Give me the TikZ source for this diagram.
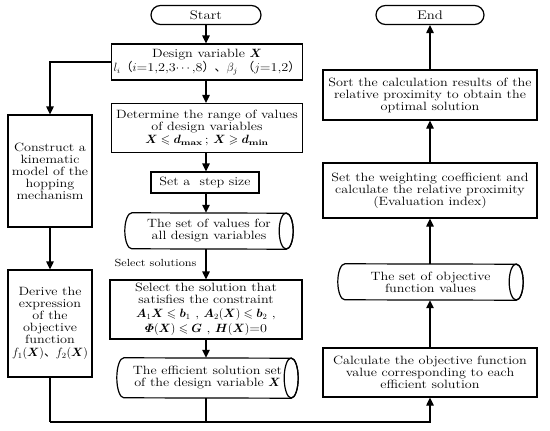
\documentclass[tikz,border=0pt]{standalone}
\usepackage{amsmath,amssymb,bm}
\usepackage{fontspec}
\setmainfont{Latin Modern Roman}[FakeStretch=1.18]
\newfontfamily\cjk{Noto Sans CJK SC}
\usetikzlibrary{arrows.meta,shapes.misc,positioning}
\tikzset{
  box/.style={draw,line width=1.2pt,align=center,inner sep=1pt,font=\fontsize{12}{12}\selectfont},
  term/.style={box,rounded rectangle},
  cylbox/.style={align=center,inner sep=1pt,font=\fontsize{12}{12}\selectfont},
  conn/.style={line width=1.2pt},
  arr/.style={conn,-{Triangle[length=8pt,width=7.5pt]}},
}
\newcommand{\drawcyl}[3]{% node, half height, rx
  \draw[line width=1.2pt] ([xshift=#3]#1.north west) arc[start angle=90,end angle=270,x radius=#3,y radius=#2]
    -- ([xshift=-#3]#1.south east) arc[start angle=-90,end angle=90,x radius=#3,y radius=#2] -- cycle;
  \draw[line width=1.2pt] ([xshift=-#3]#1.east) ellipse[x radius=#3,y radius=#2];
}
\begin{document}
\begin{tikzpicture}[x=1pt,y=-1pt]
\useasboundingbox (0,0) rectangle (550,431);
% middle column
\node[term,minimum width=112pt,minimum height=19pt,font=\fontsize{12.5}{12}\selectfont] (start) at (206,15) {Start};
\node[box,minimum width=191pt,minimum height=36pt] (dv) at (207,62) {Design variable $\bm{X}$\\[1pt]
  $l_i${\cjk （}$i$=1,2,3$\cdots$,8{\cjk ）、}$\beta_j$ {\cjk （}$j$=1,2{\cjk ）}};
\node[box,minimum width=191pt,minimum height=49pt] (det) at (207,128) {Determine the range of values\\ of design variables\\[1pt]
  $\bm{X}\leqslant\bm{d}_{\textbf{max}}$\,; $\bm{X}\geqslant\bm{d}_{\textbf{min}}$};
\node[box,minimum width=108pt,minimum height=21pt] (stp) at (205,182.5) {Set a\ \ step size};
\node[cylbox,minimum width=168pt,minimum height=36pt] (setv) at (209,231) {The set of values for\\ all design variables};
\node[box,minimum width=192pt,minimum height=59pt] (sel) at (206,309.5) {Select the solution that\\ satisfies the constraint\\[1.5pt]
  $\bm{A}_1\bm{X}\leqslant\bm{b}_1$ , $\bm{A}_2(\bm{X})\leqslant\bm{b}_2$ ,\\[3pt] $\bm{\varPhi}(\bm{X})\leqslant\bm{G}$ , $\bm{H}(\bm{X})$=0};
\node[cylbox,minimum width=181pt,minimum height=40pt] (eff) at (207.5,378) {The efficient solution set\\ of the design variable $\bm{X}$};
\node[font=\fontsize{10.3}{12}\selectfont,anchor=east] (lab) at (200,263) {Select solutions};
% left column
\node[box,minimum width=84pt,minimum height=112pt] (l1) at (50,171) {Construct a\\ kinematic\\ model of the\\ hopping\\ mechanism};
\node[box,minimum width=84pt,minimum height=107pt] (l2) at (50,323.5) {Derive the\\ expression\\ of the\\ objective\\ function\\[1pt]
  $f_1(\bm{X})${\cjk 、}$f_2(\bm{X})$};
% right column
\node[term,minimum width=110pt,minimum height=19pt,font=\fontsize{12.5}{12}\selectfont] (end) at (430,15) {End};
\node[box,minimum width=214pt,minimum height=50pt] (sort) at (430,95) {Sort the calculation results of the\\ relative proximity to obtain the\\ optimal solution};
\node[box,minimum width=214pt,minimum height=55pt] (wt) at (430,190.5) {Set the weighting coefficient and\\ calculate the relative proximity\\ (Evaluation index)};
\node[cylbox,minimum width=185pt,minimum height=36pt] (objv) at (430.5,282) {The set of objective\\ function values};
\node[box,minimum width=214pt,minimum height=49pt] (calc) at (430,372.5) {Calculate the objective function\\ value corresponding to each\\ efficient solution};
\drawcyl{setv}{18pt}{7pt}
\drawcyl{eff}{20pt}{7pt}
\drawcyl{objv}{18pt}{7pt}
\coordinate (bl) at (50,422);
\coordinate (bm) at (start.south |- bl);
\coordinate (br) at (calc.south |- bl);
\coordinate (lt) at (l1.north |- dv.west);
% connectors
\draw[arr] (start.south) -- (start.south |- dv.north);
\draw[arr] (start.south |- dv.south) -- (start.south |- det.north);
\draw[arr] (start.south |- det.south) -- (start.south |- stp.north);
\draw[arr] (start.south |- stp.south) -- (start.south |- setv.north);
\draw[arr] (start.south |- setv.south) -- (start.south |- sel.north);
\draw[arr] (start.south |- sel.south) -- (start.south |- eff.north);
\draw[arr] (dv.west) -- (lt) -- (l1.north);
\draw[arr] (l1) -- (l2);
\draw[conn] (l2.south) -- (bl);
\draw[conn] (start.south |- eff.south) -- (bm);
\draw[arr] (bl) -- (br) -- (calc.south);
\draw[arr] (calc) -- (objv.south -| calc);
\draw[arr] (objv.north -| calc) -- (wt);
\draw[arr] (wt) -- (sort);
\draw[arr] (sort) -- (end);
\end{tikzpicture}
\end{document}
